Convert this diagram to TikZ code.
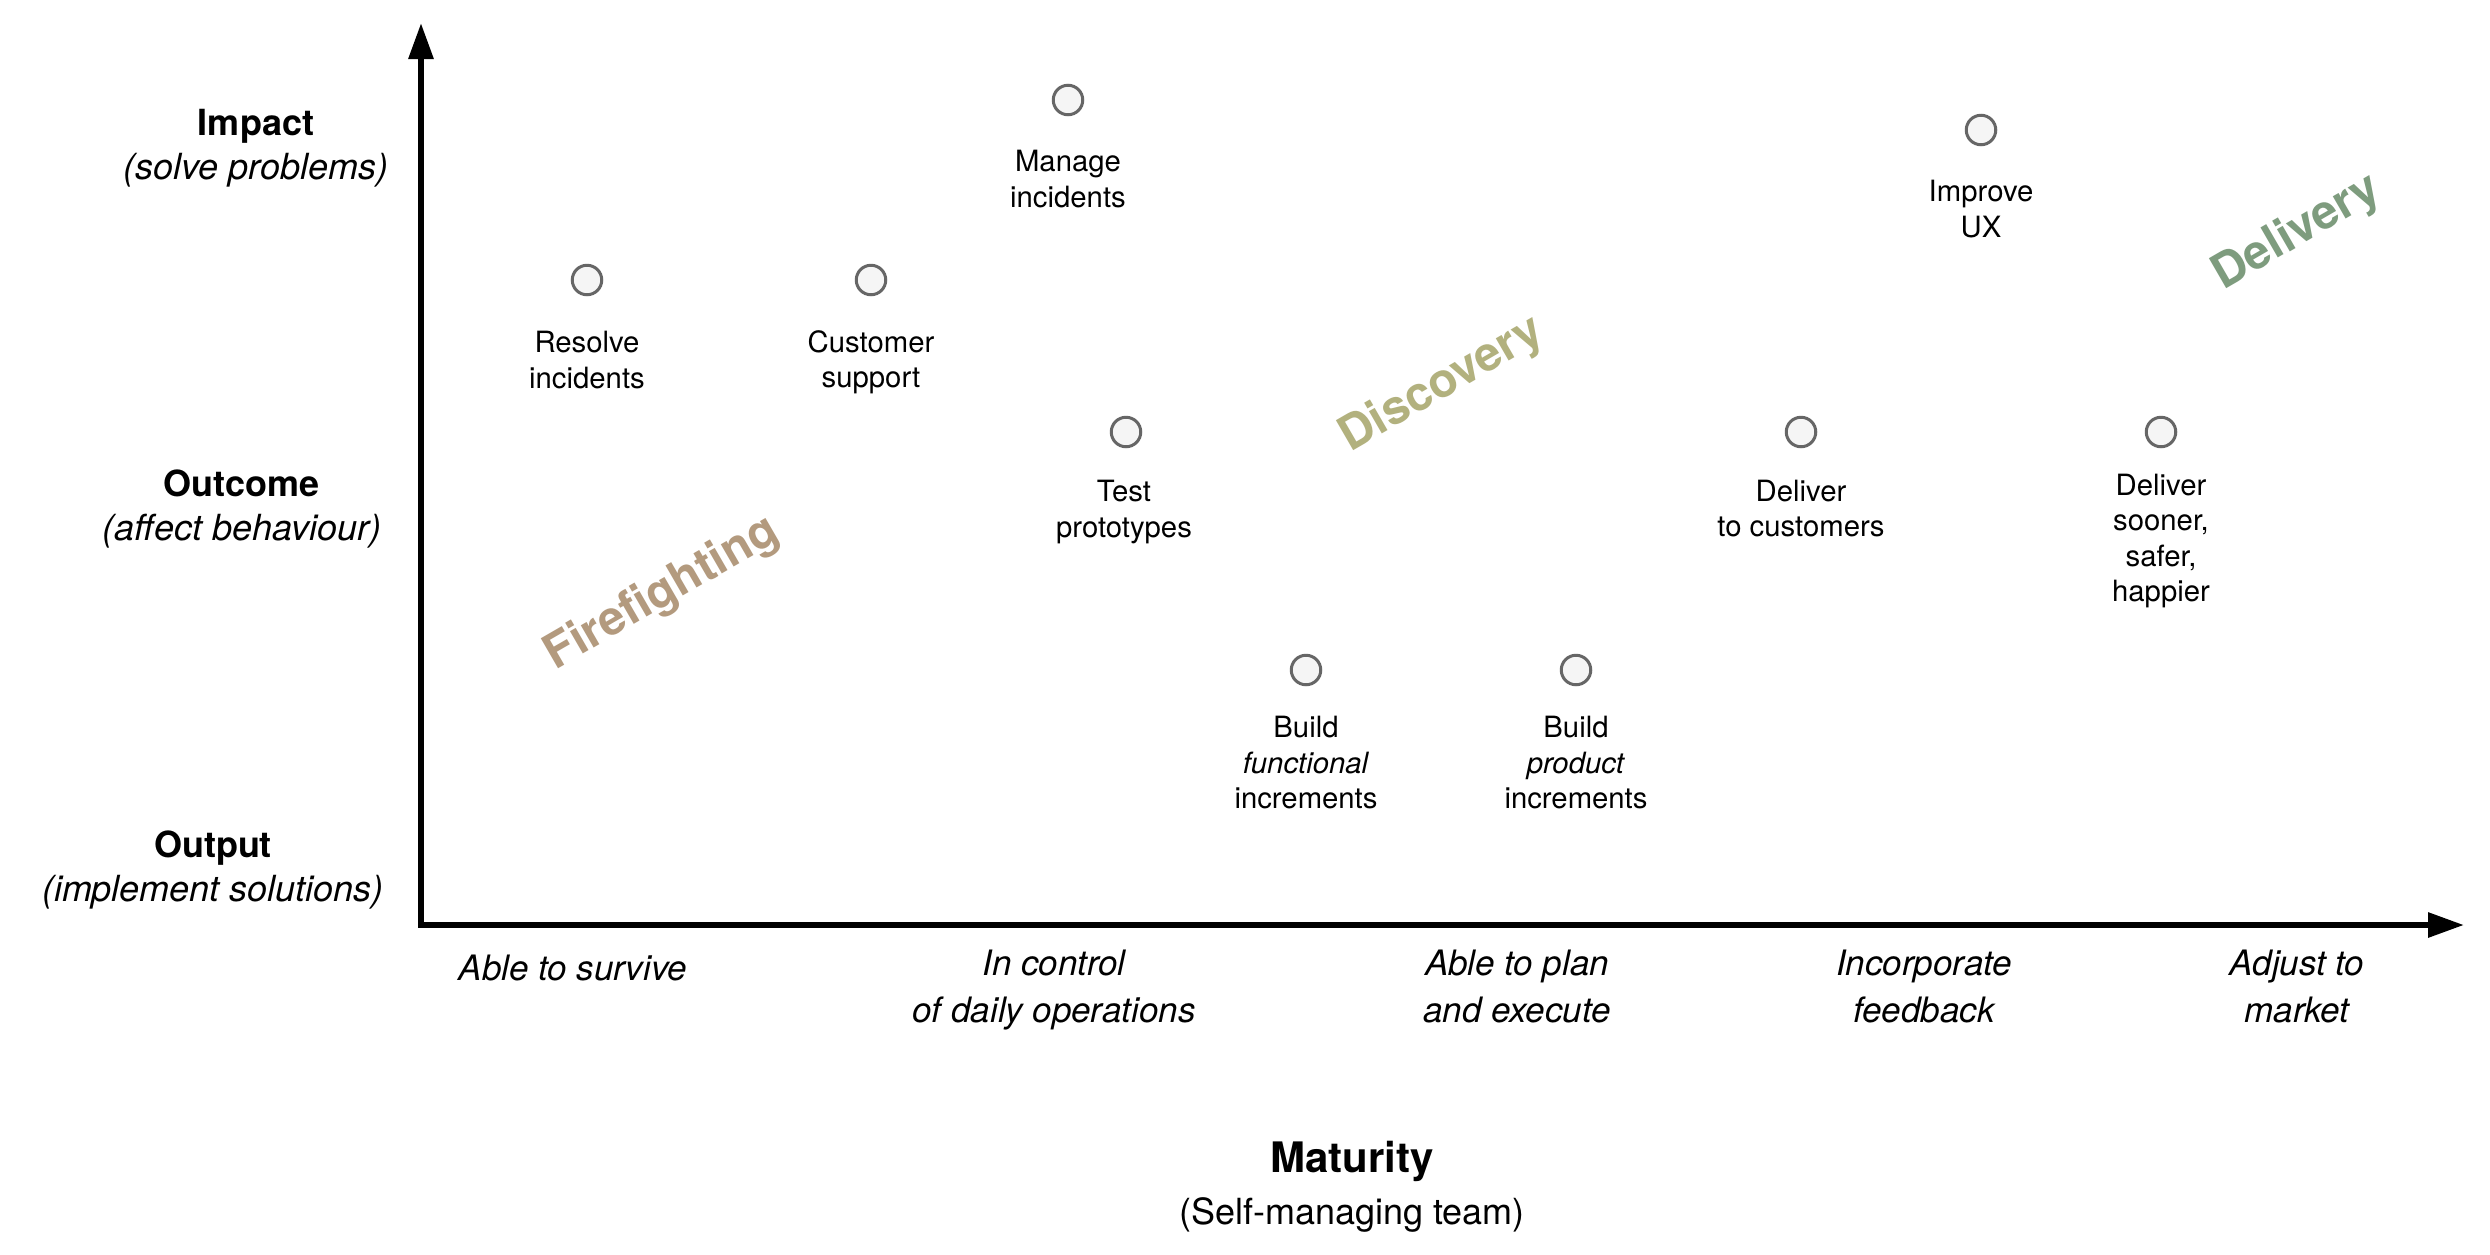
\documentclass[tikz,border=0pt]{standalone}
\usepackage{fontspec}
\setmainfont{TeX Gyre Heros}
\usetikzlibrary{arrows.meta}
\definecolor{ffcol}{HTML}{B39A7E}
\definecolor{dscol}{HTML}{B2B17E}
\definecolor{dlcol}{HTML}{7E9C7E}
\definecolor{dotfill}{HTML}{F5F5F5}
\definecolor{dotdraw}{HTML}{666666}
\begin{document}
\begin{tikzpicture}[x=1pt,y=-1pt,
  dot/.style={circle,draw=dotdraw,fill=dotfill,line width=3pt,minimum size=29.5pt,inner sep=0pt},
  lbl/.style={align=center,inner sep=0pt,font=\fontsize{29.3}{35.5}\selectfont},
  ylbl/.style={align=center,inner sep=0pt,font=\fontsize{36}{44}\selectfont},
  xlbl/.style={align=center,inner sep=0pt,font=\fontsize{35}{47}\selectfont\itshape},
  phase/.style={rotate=30,inner sep=0pt,font=\fontsize{47.5}{50}\selectfont\bfseries},
  axis/.style={line width=6pt,line join=miter,{Triangle[length=36pt,width=24pt]}-{Triangle[length=36pt,width=24pt]}}]
\useasboundingbox[fill=white] (0,0) rectangle (2490,1254);

% axes
\coordinate (ytip) at (421,23);
\coordinate (corner) at (421,925);
\coordinate (xtip) at (2464,925);
\draw[axis] (ytip) -- (corner) -- (xtip);

% y-axis labels
\node[ylbl] (impact) at (256,148) {\textbf{Impact}\\\textit{(solve problems)}};
\node[ylbl] (outcome) at (242,509) {\textbf{Outcome}\\\textit{(affect behaviour)}};
\node[ylbl] (output) at (213,870) {\textbf{Output}\\\textit{(implement solutions)}};

% x-axis labels
\node[xlbl] (survive) at (573,968) {Able to survive};
\node[xlbl] (control) at (1054,990) {In control\\of daily operations};
\node[xlbl] (plan) at (1517,986.5) {Able to plan\\and execute};
\node[xlbl] (feedback) at (1924,986.5) {Incorporate\\feedback};
\node[xlbl] (market) at (2297,986.5) {Adjust to\\market};

\node[inner sep=0pt,font=\fontsize{42}{50}\selectfont\bfseries] (maturity) at (1352,1161) {Maturity};
\node[inner sep=0pt,font=\fontsize{36}{44}\selectfont] (team) at (1352,1215) {(Self-managing team)};

% phases
\node[phase,text=ffcol] (fire) at (662,594) {Firefighting};
\node[phase,text=dscol] (disc) at (1442,385) {Discovery};
\node[phase,text=dlcol] (deliv) at (2297,233) {Delivery};

% dots
\node[dot] (d1) at (587,280) {};
\node[dot] (d2) at (871,280) {};
\node[dot] (d3) at (1068,100) {};
\node[dot] (d4) at (1126,432) {};
\node[dot] (d5) at (1306,670) {};
\node[dot] (d6) at (1576,670) {};
\node[dot] (d7) at (1801,432) {};
\node[dot] (d8) at (2161,432) {};
\node[dot] (d9) at (1981,130) {};

% dot labels
\node[lbl] (l1) at (587,360) {Resolve\\incidents};
\node[lbl] (l2) at (871,362) {Customer\\support};
\node[lbl] (l3) at (1068,179) {Manage\\incidents};
\node[lbl] (l4) at (1124,512) {Test\\prototypes};
\node[lbl] (l5) at (1306,763) {Build\\\textit{functional}\\increments};
\node[lbl] (l6) at (1576,763) {Build\\\textit{product}\\increments};
\node[lbl] (l7) at (1801,508.5) {Deliver\\to customers};
\node[lbl] (l8) at (2161,541) {Deliver\\sooner,\\safer,\\happier};
\node[lbl] (l9) at (1981,209) {Improve\\UX};
\end{tikzpicture}
\end{document}
